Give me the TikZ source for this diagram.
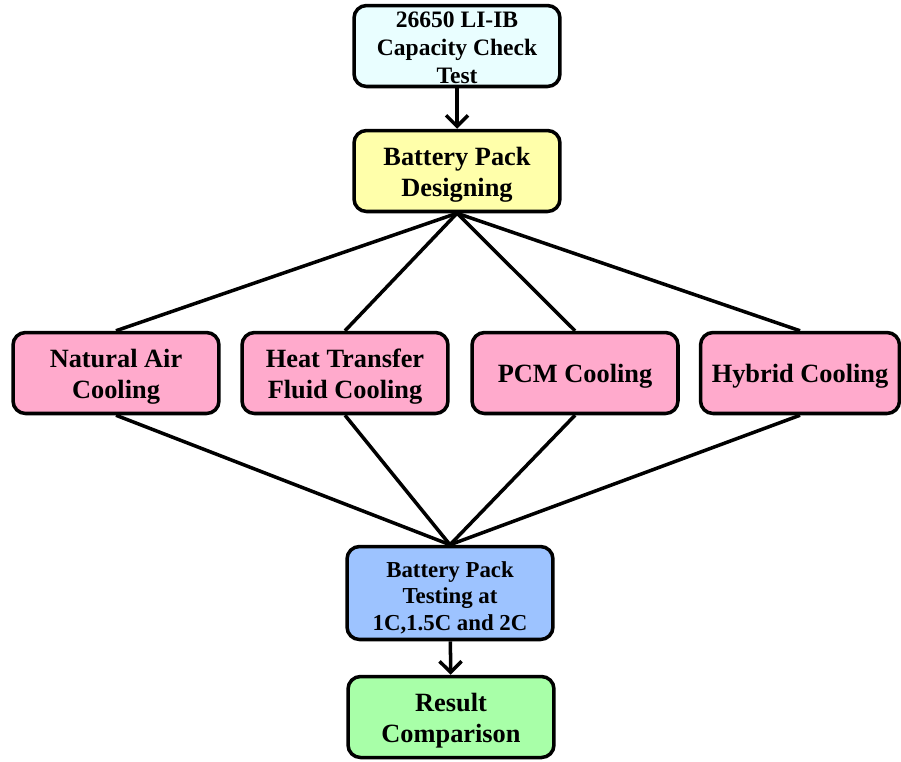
\documentclass[tikz,border=0pt]{standalone}
\usepackage{fontspec}
\setmainfont{Liberation Serif}
\usetikzlibrary{arrows.meta}
\definecolor{capcol}{RGB}{233,254,255}
\definecolor{descol}{RGB}{255,255,170}
\definecolor{coolcol}{RGB}{255,170,204}
\definecolor{testcol}{RGB}{157,195,255}
\definecolor{rescol}{RGB}{168,255,168}
\newcommand{\lift}[1][14.5pt]{\rule{0pt}{#1}}
\begin{document}
\begin{tikzpicture}
  [x=0.02cm,y=-0.02cm,line width=2pt,
   every node/.style={draw,rounded corners=0.25cm,align=center,font=\bfseries\fontsize{15}{17.5}\selectfont,
     minimum width=4.12cm,minimum height=1.62cm,inner sep=0pt},
   small/.style={font=\bfseries\fontsize{13.4}{16}\selectfont,inner ysep=-8pt},
   arr/.style={-{Straight Barb[length=2.2mm,width=4.4mm]}}]
  \useasboundingbox (0,0) rectangle (901,761);
  \node (cap)[fill=capcol,small] at (457,46) {\lift[11pt]26650 LI-IB\\Capacity Check\\Test};
  \node (des)[fill=descol] at (457,171) {\lift Battery Pack\\Designing};
  \node (nat)[fill=coolcol] at (116,373) {\lift Natural Air\\Cooling};
  \node (htf)[fill=coolcol] at (345,373) {\lift Heat Transfer\\Fluid Cooling};
  \node (pcm)[fill=coolcol] at (575,373) {\lift PCM Cooling};
  \node (hyb)[fill=coolcol,minimum width=3.98cm] at (800,373) {\lift Hybrid Cooling};
  \node (test)[fill=testcol,small,font=\bfseries\fontsize{13}{15.3}\selectfont,minimum height=1.86cm] at (450,593) {\lift Battery Pack\\Testing at\\1C,1.5C and 2C};
  \node (res)[fill=rescol] at (451,717) {\lift Result\\Comparison};
  \draw[arr] (cap) -- (des);
  \draw[arr] (test) -- (res);
  \foreach \c in {nat,htf,pcm,hyb}{
    \draw (des.south) -- (\c.north);
    \draw (\c.south) -- (test.north);
  }
\end{tikzpicture}
\end{document}
